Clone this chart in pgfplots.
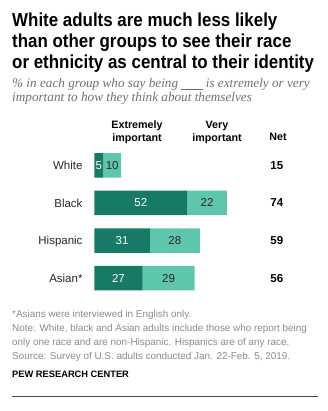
\documentclass[border=0pt]{standalone}
\usepackage{pgfplots}
\pgfplotsset{compat=1.18}
\usepackage{pgfplotstable}
\usepackage{fontspec}
\setmainfont{Liberation Sans}
\newfontfamily\titlefont[FakeStretch=0.9]{Liberation Sans}
\newfontfamily\subfont{Liberation Serif}
\definecolor{dark}{HTML}{177A66}
\definecolor{light}{HTML}{5FC6AE}
\definecolor{notegray}{HTML}{8A8A8A}
\definecolor{subgray}{HTML}{707070}

\pgfplotstableread{
y ext very net
3 5 10 15
2 52 22 74
1 31 28 59
0 27 29 56
}\data

\begin{document}
\begin{tikzpicture}
\useasboundingbox (0,0) rectangle (327pt,-411pt);
% title
\begin{scope}[every node/.style={anchor=base west, inner sep=0pt, font=\titlefont\bfseries\fontsize{18.8}{21}\selectfont}]
\node at (12pt,-27pt) {White adults are much less likely};
\node at (12pt,-48pt) {than other groups to see their race};
\node at (12pt,-69pt) {or ethnicity as central to their identity};
\end{scope}
\begin{scope}[every node/.style={anchor=base west, inner sep=0pt, text=subgray, font=\subfont\itshape\fontsize{13.2}{14}\selectfont}]
\node at (12pt,-87.5pt) {\% in each group who say being \underline{\hspace{1.6em}} is extremely or very};
\node at (12pt,-101.5pt) {important to how they think about themselves};
\end{scope}
% column headers
\begin{scope}[every node/.style={anchor=base, inner sep=0pt, font=\bfseries\fontsize{10.7}{13}\selectfont}]
\node at (137pt,-129pt) {Extremely};
\node at (137pt,-142pt) {important};
\node at (217pt,-129pt) {Very};
\node at (217pt,-142pt) {important};
\node at (278pt,-141pt) {Net};
\end{scope}
\begin{axis}[
  at={(94.3pt,-296.9pt)}, anchor=south west,
  scale only axis, width=179pt, height=150.4pt,
  xbar stacked, bar width=24.5pt,
  xmin=0, xmax=100, ymin=-0.5, ymax=3.5,
  clip=false,
  axis line style={draw=none}, tick style={draw=none},
  xtick=\empty, ytick={0,1,2,3}, yticklabels={Asian*,Hispanic,Black,White},
  yticklabel style={anchor=base east, inner sep=0pt, xshift=-11.6pt, yshift=-4.2pt, font=\fontsize{11.5}{13}\selectfont, text=black!85},
  point meta=explicit,
  /pgf/number format/assume math mode=true,
  nodes near coords,
  every node near coord/.append style={font=\fontsize{11.5}{13}\selectfont},
]
\addplot[fill=dark, draw=none, nodes near coords style={text=white}] table[x=ext, y=y, meta=ext] {\data};
\addplot[fill=light, draw=none, nodes near coords style={text=black!85}] table[x=very, y=y, meta=very] {\data};
\node[font=\bfseries\fontsize{11.5}{13}\selectfont] at (axis cs:102,3) {15};
\node[font=\bfseries\fontsize{11.5}{13}\selectfont] at (axis cs:102,2) {74};
\node[font=\bfseries\fontsize{11.5}{13}\selectfont] at (axis cs:102,1) {59};
\node[font=\bfseries\fontsize{11.5}{13}\selectfont] at (axis cs:102,0) {56};
\end{axis}
% notes
\begin{scope}[every node/.style={anchor=base west, inner sep=0pt, text=notegray, font=\fontsize{9.9}{14}\selectfont}]
\node at (12pt,-317.5pt) {*Asians were interviewed in English only.};
\node at (12pt,-331.5pt) {Note: White, black and Asian adults include those who report being};
\node at (12pt,-345.5pt) {only one race and are non-Hispanic. Hispanics are of any race.};
\node at (12pt,-359.5pt) {Source: Survey of U.S. adults conducted Jan. 22-Feb. 5, 2019.};
\end{scope}
\node[anchor=base west, inner sep=0pt, font=\bfseries\fontsize{9.3}{11}\selectfont] at (12pt,-377.5pt) {PEW RESEARCH CENTER};
\draw[line width=0.8pt, black!70] (12pt,-396.7pt) -- (318pt,-396.7pt);
\end{tikzpicture}
\end{document}
